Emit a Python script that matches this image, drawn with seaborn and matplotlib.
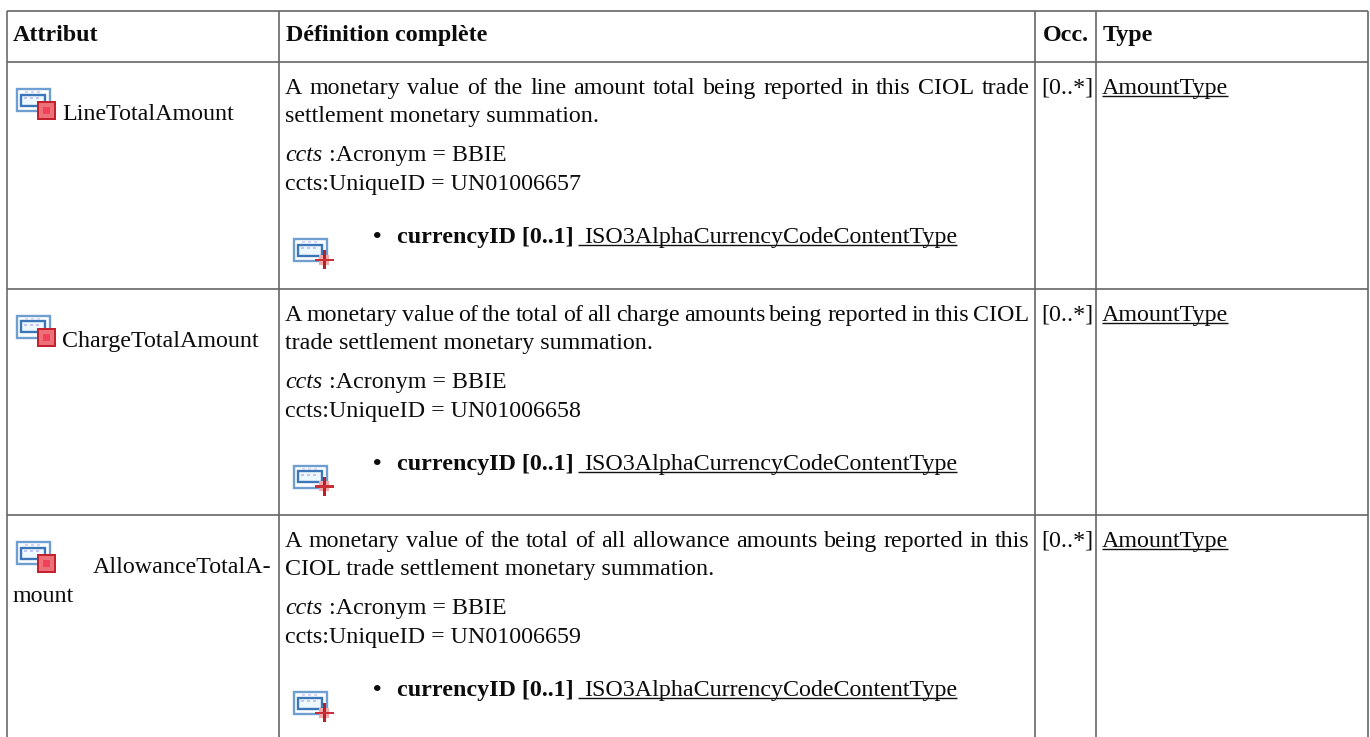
import matplotlib
matplotlib.use("Agg")
import matplotlib.pyplot as plt
from matplotlib.patches import Rectangle
import seaborn as sns

sns.set_theme(style="white")
plt.rcParams['font.family'] = ['Liberation Serif', 'DejaVu Serif']

headers = ["Attribut", "Définition complète", "Occ.", "Type"]
attr_names = [["LineTotalAmount"], ["ChargeTotalAmount"], ["AllowanceTotalA-", "mount"]]
def_lines = [
    ["A monetary value of the line amount total being reported in this CIOL trade", "settlement monetary summation."],
    ["A monetary value of the total of all charge amounts being reported in this CIOL", "trade settlement monetary summation."],
    ["A monetary value of the total of all allowance amounts being reported in this", "CIOL trade settlement monetary summation."],
]
unique_ids = ["UN01006657", "UN01006658", "UN01006659"]
occ = "[0..*]"
type_name = "AmountType"
acronym = "BBIE"
cur_label = "currencyID [0..1]"
cur_type = "ISO3AlphaCurrencyCodeContentType"

W, H = 1370, 737
FS = 17.28
LINE = "#666666"

fig = plt.figure(figsize=(W / 100, H / 100), dpi=100)
ax = fig.add_axes([0, 0, 1, 1])
ax.set_xlim(0, W)
ax.set_ylim(H, 0)
ax.axis("off")
rend = fig.canvas.get_renderer()

def txt(x, y, s, **kw):
    return ax.text(x, y, s, fontsize=kw.pop("fs", FS), va="baseline", ha="left", color="#0c0c0c", **kw)

def width(t):
    return t.get_window_extent(rend).width

def just(x, y, s, right):
    words = s.split(" ")
    ts = [txt(x, y, w) for w in words]
    ws = [width(t) for t in ts]
    gap = (right - x - sum(ws)) / (len(words) - 1)
    cx = x
    for t, w in zip(ts, ws):
        t.set_x(cx)
        cx += w + gap

def underlined(x, y, s, lead=0):
    t = txt(x + lead, y, s)
    ax.plot([x, x + lead + width(t)], [y + 2, y + 2], color="#111111", lw=1.0, solid_capstyle="butt")
    return t

def rect(x, y, w, h, fc="none", ec="none", lw=1.0, z=3):
    ax.add_patch(Rectangle((x, y), w, h, fc=fc, ec=ec, lw=lw, zorder=z))

def base_icon(x, y):
    rect(x + .7, y + .7, 33, 22, fc="white", ec="#6f9fd0", lw=1.7)
    rect(x + 5.5, y + 6.5, 24, 11, fc="#eef8ff", ec="#3a76b8", lw=1.7)
    for dx in range(8, 26, 6):
        rect(x + dx, y + 9, 3, 2, fc="#c4c4f0")
        rect(x + dx + 1, y + 3, 3, 2, fc="#d4d4f6")

def attr_icon(x, y):
    base_icon(x, y)
    rect(x + 21, y + 13, 19, 19, fc="#c4202e")
    rect(x + 23, y + 15, 15, 15, fc="#ec7078")
    rect(x + 27, y + 19, 7, 7, fc="#f0405a")

def plus_icon(x, y):
    base_icon(x, y)
    rect(x + 26.5, y + 16.5, 10, 10, fc="#f2a8a8")
    rect(x + 30.5, y + 12, 2.2, 19, fc="#b82028")
    rect(x + 22, y + 20.5, 19, 2.2, fc="#c83038")

# grid
for x in [7, 279.5, 1035.5, 1096, 1368]:
    ax.plot([x, x], [10.5, H], color=LINE if x != 7 else "#808080",
            lw=1.2 if x != 7 else 1.4, solid_capstyle="butt")
for y in [10.7, 62, 288.8, 515.3]:
    ax.plot([7, 1368], [y, y], color=LINE, lw=1.2, solid_capstyle="butt")

# header
for x, s in zip([13, 286, 1043, 1103], headers):
    txt(x, 41, s, fontweight="bold")

# rows
row_top = [62, 288.8, 515.3]
for i in range(3):
    top = row_top[i]
    attr_icon(16, top + 26)
    if i < 2:
        txt(62, top + 58, attr_names[i][0])
    else:
        txt(93, top + 58, attr_names[i][0])
        txt(13, top + 87, attr_names[i][1])
    just(284.8, top + 31.7, def_lines[i][0], 1029.5)
    txt(285.5, top + 60, def_lines[i][1])
    cc = txt(284.8, top + 99, "ccts", fontstyle="italic")
    txt(285.5 + width(cc) + 6, top + 99, f":Acronym = {acronym}")
    txt(285.5, top + 128, f"ccts:UniqueID = {unique_ids[i]}")
    plus_icon(293, top + 176)
    txt(373, top + 181, "•", fontweight="bold")
    lbl = txt(397, top + 181, cur_label, fontweight="bold")
    underlined(397 + width(lbl) + 4, top + 181, cur_type, lead=6.5)
    txt(1041, top + 31.7, occ)
    underlined(1102, top + 31.7, type_name)

fig.savefig("out.png", dpi=100, facecolor="white")
